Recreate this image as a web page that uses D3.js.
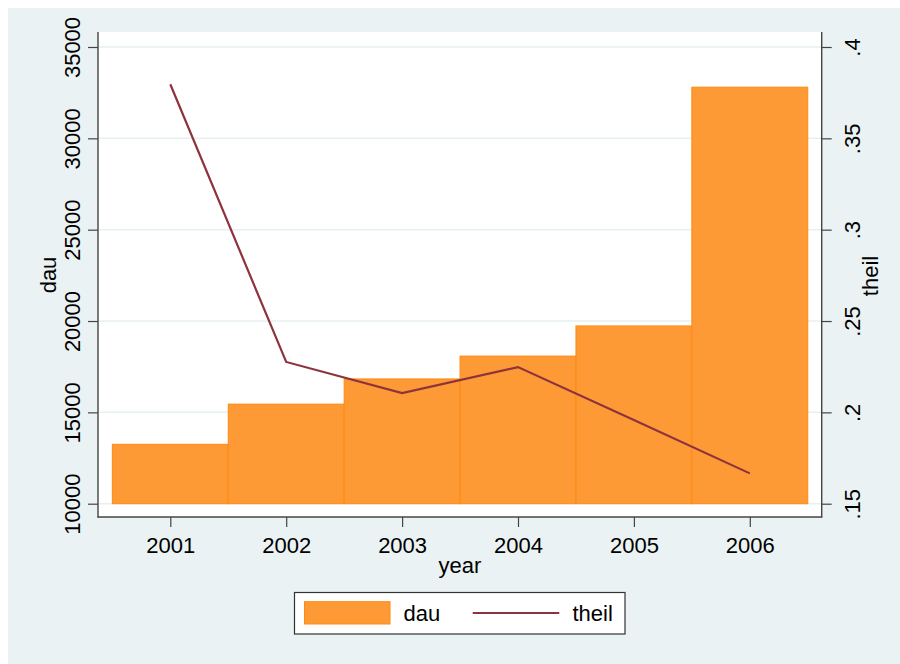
<!DOCTYPE html>
<html>
<head>
<meta charset="utf-8">
<script src="https://cdn.jsdelivr.net/npm/d3@7"></script>
<style>
  html, body { margin: 0; padding: 0; background: #ffffff; }
  svg { display: block; }
  text { font-family: "Liberation Sans", Arial, Helvetica, sans-serif; fill: #000; }
</style>
</head>
<body>
<svg id="chart" width="900" height="664"></svg>
<script>
// Yearly values: bar series (dau, left axis) and line series (theil, right axis)
const years = [2001, 2002, 2003, 2004, 2005, 2006];
const dau = [13250, 15450, 16830, 18080, 19730, 32800];
const theil = [0.3796, 0.2276, 0.2106, 0.2248, 0.1958, 0.1666];

// Axis ticks
const dauTicks = [10000, 15000, 20000, 25000, 30000, 35000];
const theilTicks = [0.15, 0.2, 0.25, 0.3, 0.35, 0.4];
const theilTickLabels = [".15", ".2", ".25", ".3", ".35", ".4"];

const W = 900, H = 664;
const plot = { left: 98, right: 821.7, top: 32, bottom: 517 };

const colors = {
  bg: "#EAF2F3",
  grid: "#E6EFF1",
  barFill: "#FD9A35",
  barStroke: "#FF8A10",
  line: "#8E333D",
  axis: "#444444"
};

const svg = d3.select("#chart");

// Outer graph region and white plot region
svg.append("rect").attr("x", 8).attr("y", 8).attr("width", W - 8).attr("height", H - 8)
  .attr("fill", colors.bg);
svg.append("rect").attr("x", plot.left).attr("y", plot.top)
  .attr("width", plot.right - plot.left).attr("height", plot.bottom - plot.top)
  .attr("fill", "#ffffff");

// Scales
const x = d3.scaleLinear().domain([2001, 2006]).range([170.3, 749.8]);
const yL = d3.scaleLinear().domain([10000, 35000]).range([503.7, 47]);
const yR = d3.scaleLinear().domain([0.15, 0.4]).range([503.7, 47]);
const halfYear = (x(2002) - x(2001)) / 2;

// Horizontal gridlines at the left-axis ticks
svg.append("g").selectAll("line").data(dauTicks).join("line")
  .attr("x1", plot.left + 1).attr("x2", plot.right)
  .attr("y1", d => yL(d)).attr("y2", d => yL(d))
  .attr("stroke", colors.grid).attr("stroke-width", 1.5);

// Bars spanning each year, based at 10000
svg.append("g").selectAll("rect").data(years).join("rect")
  .attr("x", d => x(d) - halfYear)
  .attr("width", halfYear * 2)
  .attr("y", (d, i) => yL(dau[i]))
  .attr("height", (d, i) => yL(10000) - yL(dau[i]))
  .attr("fill", colors.barFill)
  .attr("stroke", colors.barStroke)
  .attr("stroke-width", 1);

// Theil line
const line = d3.line().x((d, i) => x(years[i])).y(d => yR(d));
svg.append("path").datum(theil)
  .attr("d", line)
  .attr("fill", "none")
  .attr("stroke", colors.line)
  .attr("stroke-width", 2.2)
  .attr("stroke-linejoin", "miter");

// Axis lines
svg.append("line").attr("x1", plot.left).attr("x2", plot.left)
  .attr("y1", plot.top).attr("y2", plot.bottom + 0.5)
  .attr("stroke", colors.axis).attr("stroke-width", 1.4);
svg.append("line").attr("x1", plot.right).attr("x2", plot.right)
  .attr("y1", plot.top).attr("y2", plot.bottom + 0.5)
  .attr("stroke", colors.axis).attr("stroke-width", 1.4);
svg.append("line").attr("x1", plot.left - 0.5).attr("x2", plot.right + 0.5)
  .attr("y1", plot.bottom).attr("y2", plot.bottom)
  .attr("stroke", colors.axis).attr("stroke-width", 1.4);

const fontSize = 22;

// Left axis
const leftAxis = svg.append("g").attr("transform", `translate(${plot.left},0)`)
  .call(d3.axisLeft(yL).tickValues(dauTicks).tickSize(10).tickSizeOuter(0).tickFormat(d3.format("d")));
leftAxis.select(".domain").remove();
leftAxis.selectAll(".tick line").attr("stroke", colors.axis).attr("stroke-width", 1.2);
leftAxis.selectAll(".tick text")
  .attr("x", null).attr("dy", null)
  .attr("text-anchor", "middle")
  .attr("transform", "translate(-18,0) rotate(-90)")
  .style("font-size", fontSize + "px")
  .style("font-family", "'Liberation Sans', Arial, sans-serif")
  .attr("fill", "#000");

// Right axis
const rightAxis = svg.append("g").attr("transform", `translate(${plot.right},0)`)
  .call(d3.axisRight(yR).tickValues(theilTicks).tickSize(10).tickSizeOuter(0)
    .tickFormat((d, i) => theilTickLabels[i]));
rightAxis.select(".domain").remove();
rightAxis.selectAll(".tick line").attr("stroke", colors.axis).attr("stroke-width", 1.2);
rightAxis.selectAll(".tick text")
  .attr("x", null).attr("dy", null)
  .attr("text-anchor", "middle")
  .attr("transform", "translate(38.5,0) rotate(-90)")
  .style("font-size", fontSize + "px")
  .style("font-family", "'Liberation Sans', Arial, sans-serif")
  .attr("fill", "#000");

// Bottom axis
const bottomAxis = svg.append("g").attr("transform", `translate(0,${plot.bottom})`)
  .call(d3.axisBottom(x).tickValues(years).tickSize(10).tickSizeOuter(0).tickFormat(d3.format("d")));
bottomAxis.select(".domain").remove();
bottomAxis.selectAll(".tick line").attr("stroke", colors.axis).attr("stroke-width", 1.2);
bottomAxis.selectAll(".tick text")
  .attr("y", 36).attr("dy", null)
  .style("font-size", fontSize + "px")
  .style("font-family", "'Liberation Sans', Arial, sans-serif")
  .attr("fill", "#000");

// Axis titles
svg.append("text").attr("transform", "translate(55.5,275) rotate(-90)")
  .attr("text-anchor", "middle").style("font-size", fontSize + "px").text("dau");
svg.append("text").attr("transform", "translate(878,276) rotate(-90)")
  .attr("text-anchor", "middle").style("font-size", fontSize + "px").text("theil");
svg.append("text").attr("x", 460).attr("y", 573)
  .attr("text-anchor", "middle").style("font-size", fontSize + "px").text("year");

// Legend
const legend = svg.append("g");
legend.append("rect").attr("x", 294.5).attr("y", 592.5).attr("width", 330.5).attr("height", 41.5)
  .attr("fill", "#ffffff").attr("stroke", "#333333").attr("stroke-width", 1.2);
legend.append("rect").attr("x", 304.5).attr("y", 601.7).attr("width", 85.5).attr("height", 22.3)
  .attr("fill", colors.barFill).attr("stroke", colors.barStroke).attr("stroke-width", 1);
legend.append("text").attr("x", 403.5).attr("y", 621).style("font-size", fontSize + "px").text("dau");
legend.append("line").attr("x1", 472.7).attr("x2", 559.3).attr("y1", 613).attr("y2", 613)
  .attr("stroke", colors.line).attr("stroke-width", 2.2);
legend.append("text").attr("x", 572.5).attr("y", 621).style("font-size", fontSize + "px").text("theil");
</script>
</body>
</html>
